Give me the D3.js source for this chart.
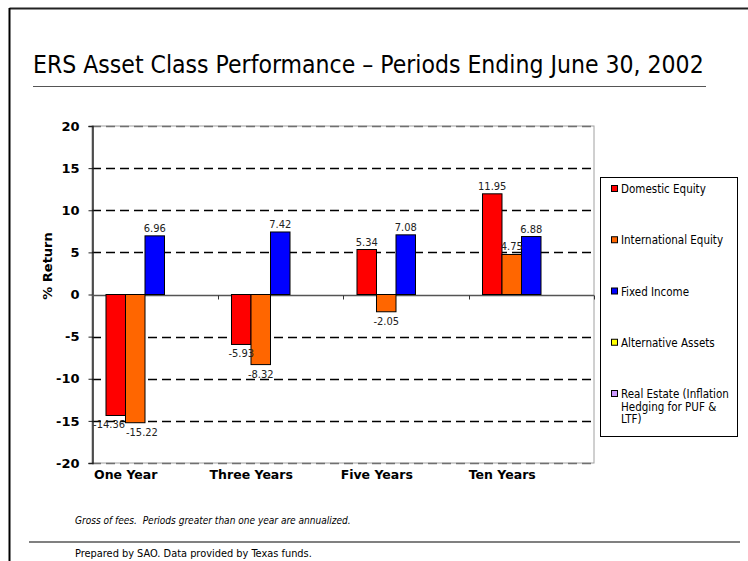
<!DOCTYPE html>
<html><head><meta charset="utf-8">
<script src="https://cdn.jsdelivr.net/npm/d3@7"></script>
<style>
html,body{margin:0;padding:0;background:#fff;}
svg{display:block;}
text{font-family:"DejaVu Sans Condensed","DejaVu Sans",sans-serif;}
</style></head>
<body>
<svg id="chart" width="748" height="561"></svg>
<script>
// ---- data ----
const categories = ["One Year", "Three Years", "Five Years", "Ten Years"];
const seriesNames = ["Domestic Equity", "International Equity", "Fixed Income", "Alternative Assets", "Real Estate (Inflation Hedging for PUF & LTF)"];
const legendLines = [["Domestic Equity"], ["International Equity"], ["Fixed Income"], ["Alternative Assets"], ["Real Estate (Inflation", "Hedging for PUF &", "LTF)"]];
const seriesColors = ["#FF0000", "#FF6600", "#0000FF", "#FFFF00", "#CC99FF"];
const domesticEquity = [-14.36, -5.93, 5.34, 11.95];
const internationalEquity = [-15.22, -8.32, -2.05, 4.75];
const fixedIncome = [6.96, 7.42, 7.08, 6.88];
const alternativeAssets = [null, null, null, null];
const realEstate = [null, null, null, null];
const yTicks = [-20, -15, -10, -5, 0, 5, 10, 15, 20];
const titleText = "ERS Asset Class Performance \u2013 Periods Ending June 30, 2002";
const noteText = "Gross of fees.  Periods greater than one year are annualized.";
const sourceText = "Prepared by SAO. Data provided by Texas funds.";

const seriesValues = [domesticEquity, internationalEquity, fixedIncome, alternativeAssets, realEstate];
const hyphen = f => (v => f(v).replace("\u2212", "-"));

const svg = d3.select("#chart");

function fitWidth(sel, target) {
  const n = sel.node();
  const fs = parseFloat(sel.attr("font-size"));
  const w = n.getComputedTextLength();
  if (w > 0) sel.attr("font-size", (fs * target / w).toFixed(2));
}

// page frame
svg.append("line").attr("x1", 9.5).attr("x2", 748).attr("y1", 8.5).attr("y2", 8.5).attr("stroke", "#222").attr("stroke-width", 2);
svg.append("line").attr("x1", 9.5).attr("x2", 9.5).attr("y1", 8).attr("y2", 561).attr("stroke", "#000").attr("stroke-width", 2);

// title
const title = svg.append("text").attr("x", 33).attr("y", 73).attr("font-size", 24).attr("fill", "#000").text(titleText);
fitWidth(title, 671);
svg.append("line").attr("x1", 33).attr("x2", 706).attr("y1", 86.5).attr("y2", 86.5).attr("stroke", "#555").attr("stroke-width", 1);

// scales
const plot = {l: 92, r: 594, t: 126, b: 463};
const x = d3.scaleBand().domain(categories).range([plot.l, plot.r]).paddingInner(0.223).paddingOuter(0.1115);
const xs = d3.scaleBand().domain(seriesNames).range([0, x.bandwidth()]);
const y = d3.scaleLinear().domain([-20, 20]).range([plot.b, plot.t]);

// plot border (grey)
svg.append("rect").attr("x", plot.l).attr("y", plot.t).attr("width", plot.r - plot.l).attr("height", plot.b - plot.t)
  .attr("fill", "none").attr("stroke", "#a0a0a0").attr("stroke-width", 1);

// gridlines
svg.append("g").selectAll("line").data(yTicks.filter(d => d !== 0)).join("line")
  .attr("x1", plot.l).attr("x2", plot.r)
  .attr("y1", d => Math.round(y(d)) + 0.5).attr("y2", d => Math.round(y(d)) + 0.5)
  .attr("stroke", d => Math.abs(d) === 20 ? "#707070" : "#000")
  .attr("stroke-width", 1.3)
  .attr("stroke-dasharray", "9,5");

// left axis
const yAxis = d3.axisLeft(y).tickValues(yTicks).tickSize(4).tickPadding(9).tickFormat(hyphen(d3.format("d")));
const gy = svg.append("g").attr("transform", `translate(${plot.l + 0.5},0)`).call(yAxis);
gy.select(".domain").attr("stroke", "#222").attr("stroke-width", 1.5);
gy.selectAll(".tick line").attr("stroke", "#222");
gy.selectAll(".tick text").attr("font-size", 13).attr("font-weight", "bold").attr("fill", "#000")
  .style("font-family", "'DejaVu Sans', sans-serif");

// zero axis with category ticks
const boundaries = categories.map(c => x(c) - x.step() * x.paddingInner() / 2).slice(1).concat([plot.r]);
const zy = Math.round(y(0)) + 0.5;
svg.append("line").attr("x1", plot.l).attr("x2", plot.r).attr("y1", zy).attr("y2", zy).attr("stroke", "#555").attr("stroke-width", 1.3);
svg.append("g").selectAll("line").data(boundaries).join("line")
  .attr("x1", d => Math.round(d) + 0.5).attr("x2", d => Math.round(d) + 0.5)
  .attr("y1", zy).attr("y2", zy + 4).attr("stroke", "#333");

// bars
const barData = [];
categories.forEach((c, i) => {
  seriesNames.forEach((s, j) => {
    const v = seriesValues[j][i];
    if (v !== null && v !== undefined) barData.push({c, s, v, color: seriesColors[j]});
  });
});
svg.append("g").selectAll("rect").data(barData).join("rect")
  .attr("x", d => x(d.c) + xs(d.s))
  .attr("width", xs.bandwidth())
  .attr("y", d => y(Math.max(0, d.v)))
  .attr("height", d => Math.abs(y(d.v) - y(0)))
  .attr("fill", d => d.color)
  .attr("stroke", "#000").attr("stroke-width", 1);

// value labels
const labels = svg.append("g").selectAll("text").data(barData).join("text")
  .attr("x", d => x(d.c) + xs(d.s) + xs.bandwidth() / 2)
  .attr("y", d => d.v >= 0 ? y(d.v) - 4 : y(d.v) + 13)
  .attr("text-anchor", "middle").attr("font-size", 11).attr("fill", "#222")
  .text(d => hyphen(d3.format(".2f"))(d.v));

// nudge overlapping labels apart horizontally
const nodes = labels.nodes();
for (let i = 0; i < nodes.length - 1; i++) {
  const a = nodes[i], b = nodes[i + 1];
  if (a.__data__.c !== b.__data__.c) continue;
  const ba = a.getBBox(), bb = b.getBBox();
  const vOverlap = ba.y < bb.y + bb.height && bb.y < ba.y + ba.height;
  const hOverlap = ba.x + ba.width - bb.x;
  if (vOverlap && hOverlap > 0 && a.__data__.v < 0 && b.__data__.v < 0) {
    const s = hOverlap / 2 + 0.5;
    d3.select(a).attr("x", +d3.select(a).attr("x") - s);
    d3.select(b).attr("x", +d3.select(b).attr("x") + s);
  }
}

// category labels
svg.append("g").selectAll("text").data(categories).join("text")
  .attr("x", d => x(d) + x.bandwidth() / 2 - 29)
  .attr("y", 479)
  .attr("text-anchor", "middle").attr("font-size", 12.5).attr("font-weight", "bold").attr("fill", "#000")
  .style("font-family", "'DejaVu Sans', sans-serif")
  .text(d => d);

// y axis title
svg.append("text").attr("transform", "translate(52,266) rotate(-90)")
  .attr("text-anchor", "middle").attr("font-size", 13).attr("font-weight", "bold")
  .style("font-family", "'DejaVu Sans', sans-serif")
  .text("% Return");

// legend
const lg = svg.append("g");
lg.append("rect").attr("x", 600.5).attr("y", 177.5).attr("width", 137).attr("height", 259).attr("fill", "#fff").attr("stroke", "#000");
const ly = d3.scalePoint().domain(seriesNames).range([189, 394]);
const items = lg.selectAll("g.item").data(seriesNames).join("g").attr("class", "item");
items.append("rect").attr("x", 611.5).attr("y", d => ly(d) - 3.5).attr("width", 6).attr("height", 6)
  .attr("fill", (d, i) => seriesColors[i]).attr("stroke", "#000");
items.each(function(d, i) {
  const t = d3.select(this).append("text").attr("x", 621).attr("y", ly(d) + 4).attr("font-size", 11.5).attr("fill", "#000");
  legendLines[i].forEach((ln, k) => t.append("tspan").attr("x", 621).attr("dy", k === 0 ? 0 : 12.5).text(ln));
});

// footer
const note = svg.append("text").attr("x", 75).attr("y", 524).attr("font-size", 9).attr("font-style", "italic").attr("fill", "#000")
  .style("white-space", "pre").text(noteText);
fitWidth(note, 276);
svg.append("line").attr("x1", 29).attr("x2", 740).attr("y1", 542).attr("y2", 542).attr("stroke", "#808080").attr("stroke-width", 2);
const src = svg.append("text").attr("x", 75).attr("y", 557).attr("font-size", 9).attr("fill", "#000").text(sourceText);
fitWidth(src, 237);
</script>
</body></html>
